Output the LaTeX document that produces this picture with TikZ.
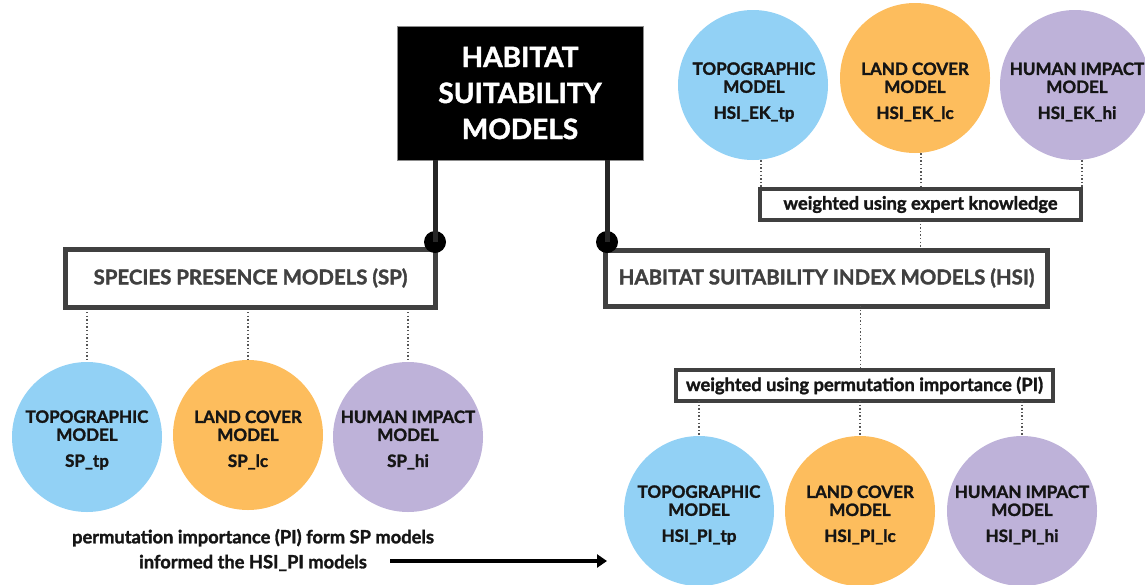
\documentclass[tikz,border=0pt]{standalone}
\usepackage{fontspec}
\setmainfont{Lato}[BoldFeatures={FakeBold=1.6}]
\usetikzlibrary{arrows.meta}
\definecolor{topo}{HTML}{92D1F5}
\definecolor{land}{HTML}{FDBD5D}
\definecolor{human}{HTML}{BEB2D9}
\definecolor{frame}{HTML}{404040}
\definecolor{ink}{HTML}{151515}
\definecolor{link}{HTML}{555555}
\begin{document}
\begin{tikzpicture}[x=1pt,y=-1pt,
  disc/.style={circle, minimum size=150pt, inner sep=0pt},
  modeltext/.style={align=center, inner sep=0pt, text=ink,
    font=\bfseries\fontsize{17}{18}\selectfont},
  groupbox/.style={draw=frame, line width=5pt, fill=white, inner sep=0pt,
    text=frame, font=\bfseries\fontsize{20.4}{24}\selectfont},
  weightbox/.style={draw=frame, line width=4pt, fill=white, inner sep=0pt,
    text=ink, font=\bfseries\fontsize{18.3}{20}\selectfont},
  trunk/.style={line width=5pt, draw=black!85},
  joint/.style={circle, fill=black, minimum size=22pt, inner sep=0pt},
  link/.style={draw=link, line width=1.4pt, dash pattern=on 1.4pt off 2.2pt},
  note/.style={align=center, inner sep=0pt, text=ink,
    font=\bfseries\fontsize{18.3}{25}\selectfont}]
\useasboundingbox (0,0) rectangle (1145,584);

% title block
\node[fill=black, draw=black!45, line width=0.8pt, minimum width=246pt,
  minimum height=134pt, inner sep=0pt, align=center, text=white,
  font=\bfseries\fontsize{28}{36}\selectfont]
  (title) at (520,93) {HABITAT\\SUITABILITY\\MODELS};

% the two model groups
\node[groupbox, minimum width=370pt, minimum height=58pt] (sp) at (250.5,278)
  {SPECIES PRESENCE MODELS (SP)};
\node[groupbox, minimum width=442pt, minimum height=56pt] (hsi) at (826.5,278)
  {HABITAT SUITABILITY INDEX MODELS (HSI)};

% trunks from the title down to the groups
\node[joint] (jsp) at (435,242) {};
\node[joint] (jhsi) at (607,242) {};
\draw[trunk] (jsp |- title.south) -- (jsp.center);
\draw[trunk] (jhsi |- title.south) -- (jhsi.center);

% weighting boxes
\node[weightbox, minimum width=321pt, minimum height=31pt] (ek) at (920.5,204.5)
  {weighted using expert knowledge};
\node[weightbox, minimum width=377pt, minimum height=31pt] (pi) at (864.5,385.5)
  {weighted using permutation importance (PI)};

% expert knowledge models
\node[disc, fill=topo] (ektp) at (753,85) {};
\node[disc, fill=land] (eklc) at (915,78) {};
\node[disc, fill=human] (ekhi) at (1075,85) {};
\node[modeltext] (ektpt) at (754,92) {TOPOGRAPHIC\\MODEL\\[8pt]HSI\_EK\_tp};
\node[modeltext] (eklct) at (915,92) {LAND COVER\\MODEL\\[8pt]HSI\_EK\_lc};
\node[modeltext] (ekhit) at (1077,92) {HUMAN IMPACT\\MODEL\\[8pt]HSI\_EK\_hi};

% species presence models
\node[disc, fill=topo] (sptp) at (87,437) {};
\node[disc, fill=land] (splc) at (248,435) {};
\node[disc, fill=human] (sphi) at (408,437) {};
\node[modeltext] (sptpt) at (87,440) {TOPOGRAPHIC\\MODEL\\[8pt]SP\_tp};
\node[modeltext] (splct) at (248,440) {LAND COVER\\MODEL\\[8pt]SP\_lc};
\node[modeltext] (sphit) at (408,440) {HUMAN IMPACT\\MODEL\\[8pt]SP\_hi};

% permutation importance models
\node[disc, fill=topo] (pitp) at (699,511) {};
\node[disc, fill=land] (pilc) at (860,511) {};
\node[disc, fill=human] (pihi) at (1022,511) {};
\node[modeltext] (pitpt) at (699,515) {TOPOGRAPHIC\\MODEL\\[8pt]HSI\_PI\_tp};
\node[modeltext] (pilct) at (860,515) {LAND COVER\\MODEL\\[8pt]HSI\_PI\_lc};
\node[modeltext] (pihit) at (1022,515) {HUMAN IMPACT\\MODEL\\[8pt]HSI\_PI\_hi};

% dotted links
\draw[link] (sptp.north |- sp.south) ++(0,2.5) -- (sptp.north);
\draw[link] (splc.north |- sp.south) ++(0,2.5) -- (splc.north);
\draw[link] (sphi.north |- sp.south) ++(0,2.5) -- (sphi.north);
\draw[link] ([xshift=8pt]ektp.south) -- ([xshift=8pt]ektp.south |- ek.north);
\draw[link] ([xshift=6pt]eklc.south) -- ([xshift=6pt]eklc.south |- ek.north);
\draw[link] ([xshift=7pt]ekhi.south) -- ([xshift=7pt]ekhi.south |- ek.north);
\draw[link] ([yshift=2pt]ek.south) -- (ek.south |- hsi.north);
\draw[link] ([xshift=-4pt,yshift=2.5pt]hsi.south -| pi.north) -- ([xshift=-4pt]pi.north);
\draw[link] ([yshift=2pt]pi.south -| pitp.north) -- (pitp.north);
\draw[link] ([yshift=2pt]pi.south -| pilc.north) -- (pilc.north);
\draw[link] ([yshift=2pt]pi.south -| pihi.north) -- (pihi.north);

% note and arrow into the PI models
\node[note] (pinote) at (253,550)
  {permutation importance (PI) form SP models\\informed the HSI\_PI models};
\coordinate (arrowstart) at (390,561);
\coordinate (arrowend) at (607,561);
\draw[line width=3.5pt, -{Triangle[length=10pt,width=13pt]}] (arrowstart) -- (arrowend);
\end{tikzpicture}
\end{document}
